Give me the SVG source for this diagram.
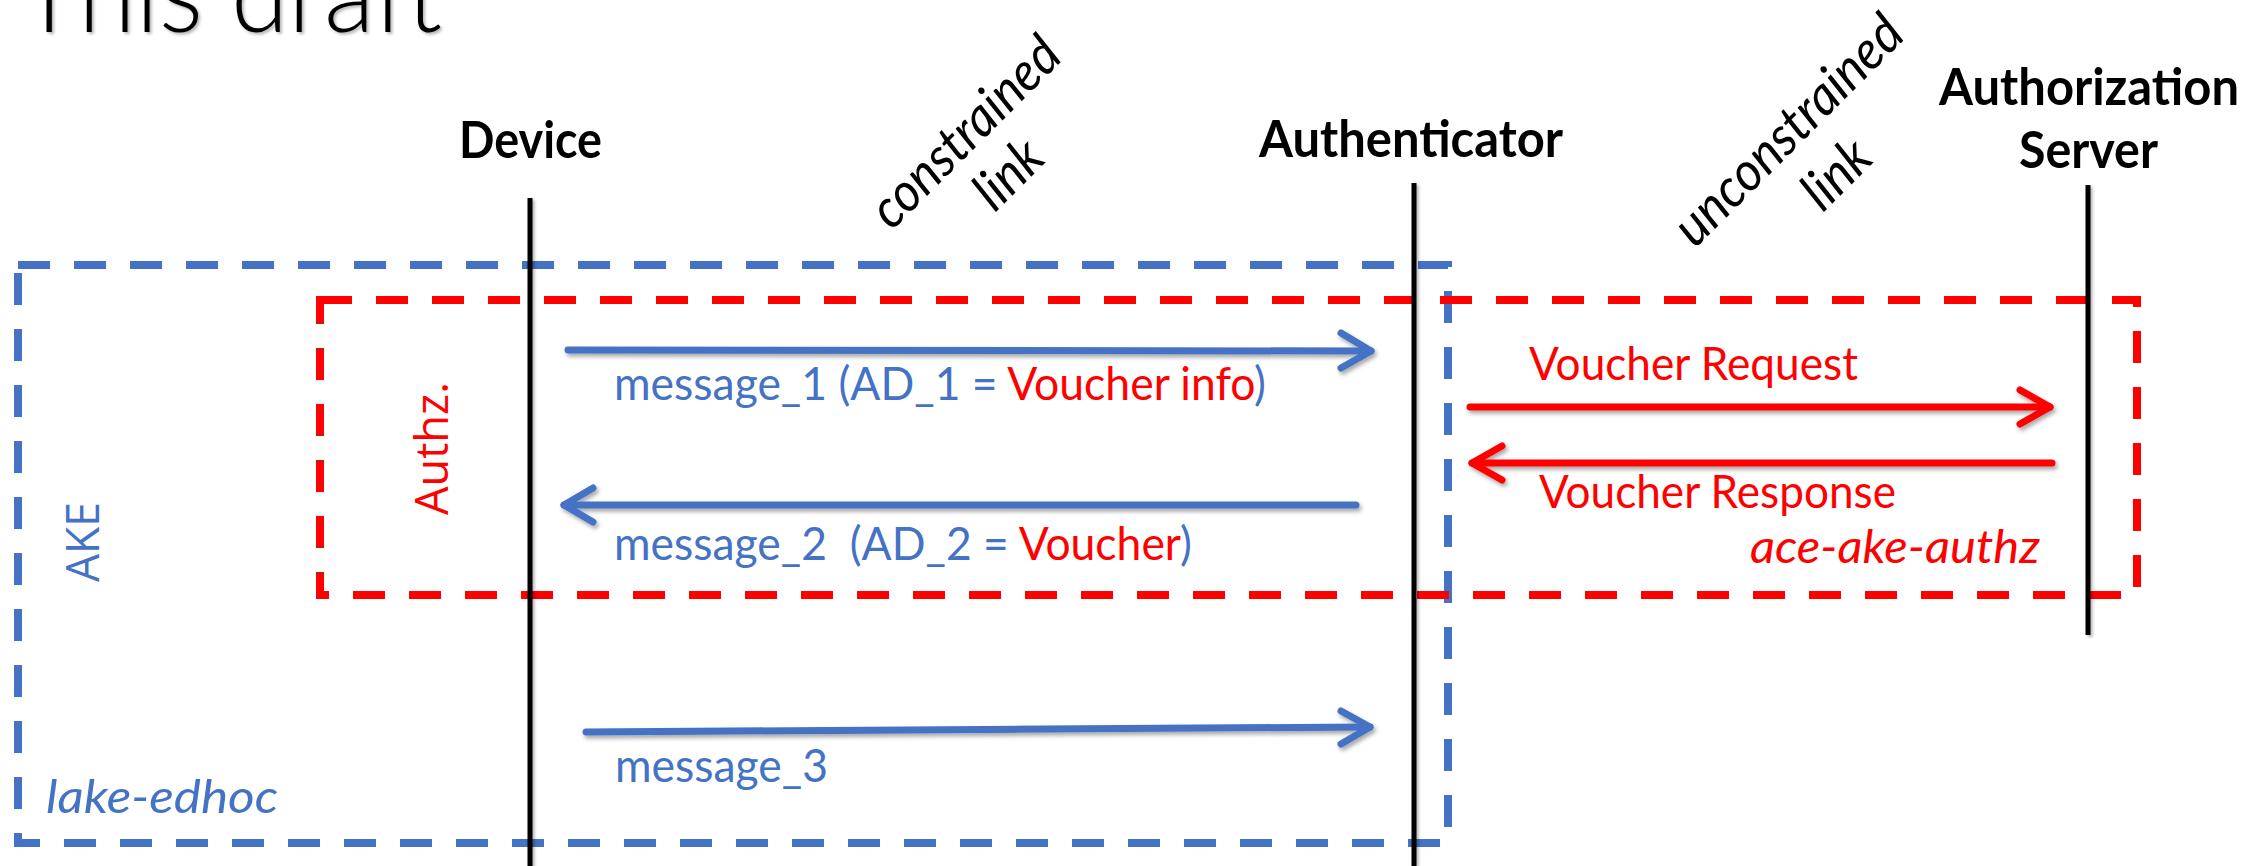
<svg xmlns="http://www.w3.org/2000/svg" width="2264" height="866" viewBox="0 0 2264 866">
  <defs>
    <filter id="shadow" x="-5%" y="-50%" width="110%" height="200%">
      <feDropShadow dx="2" dy="3" stdDeviation="2" flood-color="#000" flood-opacity="0.35"/>
    </filter>
    <filter id="lshadow" filterUnits="userSpaceOnUse" x="0" y="0" width="2264" height="866">
      <feDropShadow dx="2" dy="2" stdDeviation="1.5" flood-color="#000" flood-opacity="0.3"/>
    </filter>
    <filter id="tshadow" x="-5%" y="-20%" width="110%" height="140%">
      <feDropShadow dx="2" dy="2" stdDeviation="1.5" flood-color="#000" flood-opacity="0.3"/>
    </filter>
  </defs>
  <style>
    .frame { fill: none; stroke-width: 8; stroke-dasharray: 32 24; }
    .blue-frame { stroke: #4472C4; }
    .red-frame { stroke: #FF0000; }
    .life { stroke: #000; stroke-width: 5; }
    .arrow { fill: none; stroke-width: 7; stroke-linecap: round; stroke-linejoin: round; }
    .blue { stroke: #4472C4; }
    .red { stroke: #FF0000; }
    .actor { font-family: Lato, "Liberation Sans", sans-serif; font-weight: 700; font-size: 51px; fill: #000; }
    .link { font-family: Lato, "Liberation Sans", sans-serif; font-style: italic; font-size: 54px; fill: #000; }
    .msg { font-family: Lato, "Liberation Sans", sans-serif; font-size: 47px; fill: #4472C4; }
    .tb { fill: #4472C4; }
    .tr { fill: #FF0000; }
    .tag { font-family: "Open Sans", "DejaVu Sans", sans-serif; font-size: 45px; }
    .draft { font-family: Lato, "Liberation Sans", sans-serif; font-style: italic; }
  </style>

  <rect width="2264" height="866" fill="#fff"/>

  <!-- slide title -->
  <text x="19" y="32" font-family="Lato, 'Liberation Sans', sans-serif" font-weight="300" font-size="110" fill="#000" textLength="423" lengthAdjust="spacingAndGlyphs" filter="url(#tshadow)">This draft</text>

  <!-- protocol scopes -->
  <g id="ake-box">
    <rect class="frame blue-frame" x="18" y="265" width="1430" height="578"/>
    <text class="tag tb" transform="translate(99,582) rotate(-90)" textLength="80" lengthAdjust="spacingAndGlyphs">AKE</text>
    <text class="msg draft" x="46" y="813" font-size="51" textLength="232" lengthAdjust="spacingAndGlyphs">lake-edhoc</text>
  </g>
  <g id="authz-box">
    <rect class="frame red-frame" x="320" y="300" width="1817" height="295"/>
    <text class="tag tr" transform="translate(448,515) rotate(-90)" textLength="133" lengthAdjust="spacingAndGlyphs">Authz.</text>
    <text class="msg draft tr" x="1750" y="563" font-size="49" textLength="290" lengthAdjust="spacingAndGlyphs">ace-ake-authz</text>
  </g>

  <!-- participants -->
  <g id="device">
    <text class="actor" x="459" y="158" textLength="143" lengthAdjust="spacingAndGlyphs">Device</text>
    <line class="life" x1="530" y1="198" x2="530" y2="866" filter="url(#lshadow)"/>
  </g>
  <g id="authenticator">
    <text class="actor" x="1259" y="157" textLength="304" lengthAdjust="spacingAndGlyphs">Authenticator</text>
    <line class="life" x1="1414" y1="183" x2="1414" y2="866" filter="url(#lshadow)"/>
  </g>
  <g id="authorization-server">
    <text class="actor" x="1939" y="105" textLength="300" lengthAdjust="spacingAndGlyphs">Authorization</text>
    <text class="actor" x="2019" y="168" textLength="139" lengthAdjust="spacingAndGlyphs">Server</text>
    <line class="life" x1="2088" y1="185" x2="2088" y2="635" filter="url(#lshadow)"/>
  </g>

  <!-- link annotations -->
  <g id="constrained-link">
    <text class="link" text-anchor="middle" transform="translate(978,145) rotate(-45)" textLength="244" lengthAdjust="spacingAndGlyphs">constrained</text>
    <text class="link" text-anchor="middle" transform="translate(1021,187) rotate(-45)" textLength="74" lengthAdjust="spacingAndGlyphs">link</text>
  </g>
  <g id="unconstrained-link">
    <text class="link" text-anchor="middle" transform="translate(1801,143) rotate(-45)" textLength="300" lengthAdjust="spacingAndGlyphs">unconstrained</text>
    <text class="link" text-anchor="middle" transform="translate(1849,187) rotate(-45)" textLength="74" lengthAdjust="spacingAndGlyphs">link</text>
  </g>

  <!-- messages -->
  <g id="connectors">
    <g id="message-1" class="arrow blue" filter="url(#shadow)">
      <line x1="568" y1="350" x2="1371" y2="351"/>
      <polyline points="1341,333 1371,351 1341,368"/>
    </g>
    <g id="message-2" class="arrow blue" filter="url(#shadow)">
      <line x1="1356" y1="505" x2="564" y2="505"/>
      <polyline points="593,488 564,505 593,522"/>
    </g>
    <g id="message-3" class="arrow blue" filter="url(#shadow)">
      <line x1="586" y1="732" x2="1370" y2="727"/>
      <polyline points="1341,711 1370,727 1341,744"/>
    </g>
    <g id="voucher-request" class="arrow red" filter="url(#shadow)">
      <line x1="1470" y1="407" x2="2050" y2="407"/>
      <polyline points="2020,390 2050,407 2020,424"/>
    </g>
    <g id="voucher-response" class="arrow red" filter="url(#shadow)">
      <line x1="2052" y1="463" x2="1472" y2="463"/>
      <polyline points="1502,446 1472,463 1502,480"/>
    </g>
  </g>

  <!-- message labels -->
  <g id="labels">
    <text class="msg" x="614" y="400" textLength="652" lengthAdjust="spacingAndGlyphs">message_1 (AD_1 = <tspan class="tr">Voucher info</tspan>)</text>
    <text class="msg" x="614" y="560" xml:space="preserve" textLength="578" lengthAdjust="spacingAndGlyphs">message_2  (AD_2 = <tspan class="tr">Voucher</tspan>)</text>
    <text class="msg" x="615" y="782" textLength="213" lengthAdjust="spacingAndGlyphs">message_3</text>
    <text class="msg tr" x="1529" y="380" textLength="329" lengthAdjust="spacingAndGlyphs">Voucher Request</text>
    <text class="msg tr" x="1539" y="508" textLength="357" lengthAdjust="spacingAndGlyphs">Voucher Response</text>
  </g>
</svg>
